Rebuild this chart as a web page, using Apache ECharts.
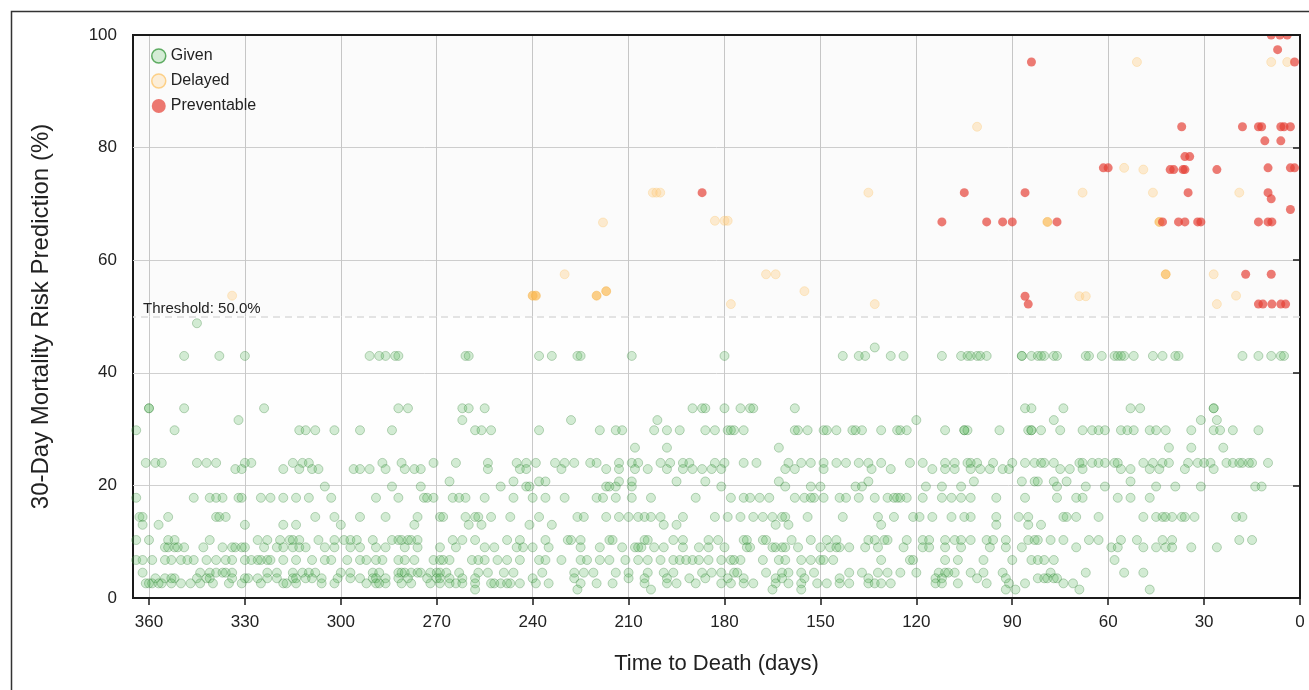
<!DOCTYPE html>
<html>
<head>
<meta charset="utf-8">
<script src="https://cdn.jsdelivr.net/npm/echarts@6/dist/echarts.min.js"></script>
<style>
html,body{margin:0;padding:0;background:#fff;}
#chart{width:1309px;height:690px;}
</style>
</head>
<body>
<div id="chart"></div>
<script>
// ---------------- DATA ----------------
const xTickValues = [0, 30, 60, 90, 120, 150, 180, 210, 240, 270, 300, 330, 360];
const thresholdValue = 50;

// Given: risk levels and the days (time to death) observed at each level
const givenLevels = [48.8, 44.5, 43, 33.7, 31.6, 29.8, 26.7, 24.0, 22.9, 20.7, 19.8, 17.8, 14.4, 13.0, 10.3, 9.0, 6.75, 4.5, 3.5, 2.6, 1.5];
const givenDays = [
  [345],
  [133],
  [349,338,330,291,288,286,283,282,261,260,238,234,226,225,209,180,143,138,136,128,124,112,106,104,103,101,100,98,87,87,84,82,81,80,77,76,67,66,62,58,57,56,55,52,46,43,39,38,18,13,9,6,5],
  [360,360,349,324,282,279,262,260,255,190,187,186,180,175,172,171,158,86,84,74,53,50,27,27],
  [332,262,228,201,120,77,31,26],
  [364,352,313,311,308,302,294,284,258,256,253,238,219,214,212,202,198,194,186,183,179,178,177,174,158,157,154,149,148,145,140,139,137,131,126,125,123,111,105,105,104,94,85,84,84,81,75,68,65,63,61,56,54,52,47,45,42,34,27,25,21,13],
  [208,198,163,41,34,24],
  [361,358,356,345,342,339,330,328,315,312,310,287,281,271,264,254,245,242,239,233,230,227,222,220,213,209,207,200,197,193,191,183,180,174,170,160,156,153,149,145,142,138,135,131,122,118,111,108,104,103,101,96,90,86,83,81,80,77,69,68,65,63,61,58,57,49,46,43,41,35,32,30,28,23,21,19,18,16,15,10],
  [333,331,318,313,309,307,296,294,291,286,280,277,275,254,244,242,231,217,213,208,204,198,193,190,187,184,181,161,158,149,134,128,115,111,108,103,100,97,93,91,75,72,68,56,53,47,44,36,27],
  [266,246,238,236,213,209,195,186,163,135,102,87,83,82,77,73,53],
  [305,284,275,250,242,241,217,216,214,209,181,161,153,150,139,137,117,112,106,76,67,61,45,39,31,14,12],
  [364,346,341,339,337,332,331,325,322,318,314,310,303,289,282,274,273,271,265,263,261,255,246,240,236,230,220,218,214,209,203,189,178,174,172,169,166,158,155,153,152,149,144,142,138,133,129,127,126,125,123,118,112,109,106,103,95,86,76,70,68,57,53,47],
  [363,362,354,339,338,336,308,302,294,286,276,269,268,261,258,257,253,247,238,226,224,217,213,210,207,205,203,200,193,183,179,175,171,168,165,162,161,154,143,132,127,121,119,115,109,105,103,95,88,85,74,73,70,63,49,45,43,42,40,37,36,33,20,18],
  [362,357,330,318,314,300,277,260,256,241,234,199,195,164,160,131,95,85,81],
  [364,360,354,352,341,326,323,319,316,315,313,307,302,299,297,295,290,284,282,281,279,278,276,265,262,258,248,244,236,229,228,225,216,215,205,204,196,193,185,182,174,173,168,167,159,153,148,145,135,133,130,129,123,118,116,111,108,106,103,98,96,92,85,83,82,78,74,66,63,56,51,43,40,19,15],
  [355,354,352,351,349,343,337,334,333,331,330,324,320,318,315,313,311,305,302,297,294,289,286,280,276,269,264,255,252,245,243,240,235,225,219,212,208,207,206,202,199,193,188,185,180,173,172,165,164,162,161,157,150,147,145,144,141,136,132,124,118,116,111,106,97,92,87,70,59,57,49,45,42,40,34,26],
  [364,362,359,355,353,350,348,346,342,339,336,334,330,328,326,325,323,322,318,314,309,305,303,298,294,292,289,287,282,280,277,271,269,268,266,259,257,255,251,248,244,238,236,231,225,223,219,216,211,207,204,200,196,194,192,190,188,185,181,178,177,175,168,163,161,156,153,150,149,146,131,122,121,111,107,99,90,84,82,80,77,58],
  [362,344,341,339,337,336,334,323,320,315,312,310,308,300,297,290,288,282,281,280,278,276,275,272,270,269,267,263,257,254,249,246,237,227,224,221,214,210,204,199,196,187,184,181,177,176,167,162,160,156,152,141,137,132,129,125,120,113,111,110,108,103,99,93,78,67,55,49],
  [358,355,353,352,345,342,341,334,330,329,326,323,320,315,314,311,309,306,301,297,294,290,289,286,282,279,273,270,269,266,262,258,240,227,210,205,198,191,186,179,174,164,162,155,144,135,114,112,101,92,82,80,79,77,76],
  [361,360,359,357,356,353,350,347,344,340,335,331,325,318,317,314,306,302,292,289,288,286,281,278,272,269,266,264,262,258,253,252,250,248,247,244,239,235,225,220,215,205,198,195,189,181,178,174,171,164,160,156,151,148,144,141,135,133,131,128,114,112,107,98,91,86,74,71],
  [258,226,203,165,156,92,89,69,47]
];

// Delayed (pale group)
const delayedPaleDays = [334,218,202.4,201.3,200.1,183,180,179,135,230,178,167,164,155,133,101,51,9,4,55,49,68,46,19,69,67,27,20,26];
const delayedPaleRisk = [53.7,66.7,72,72,72,67,67,67,72,57.5,52.2,57.5,57.5,54.5,52.2,83.7,95.2,95.2,95.2,76.4,76.1,72,72,72,53.6,53.6,57.5,53.7,52.2];
// Delayed (deep group)
const delayedDeepDays = [240,239,220,217,42,44,79];
const delayedDeepRisk = [53.7,53.7,53.7,54.5,57.5,66.8,66.8];

// Preventable
const prevDays = [187,84,105,86,112,98,93,90,76,61.5,60,37,18,13,12,6,5,3,11,6,36,34.5,40.6,39.5,36.6,36,26,10,3,1.7,35,10,9,3,43,38,36,32,31,13,10,8.8,9,6.3,4,7,1.7,86,85,17,9,13,11.6,8.8,6,4.5];
const prevRisk = [72,95.2,72,72,66.8,66.8,66.8,66.8,66.8,76.4,76.4,83.7,83.7,83.7,83.7,83.7,83.7,83.7,81.2,81.2,78.4,78.4,76.1,76.1,76.1,76.1,76.1,76.4,76.4,76.4,72,72,70.9,69,66.8,66.8,66.8,66.8,66.8,66.8,66.8,66.8,100,100,100,97.4,95.2,53.6,52.2,57.5,57.5,52.2,52.2,52.2,52.2,52.2];

// ---------------- BUILD ----------------
const givenData = [];
givenLevels.forEach((lvl, i) => givenDays[i].forEach(d => givenData.push([d, lvl])));
const zip = (a, b) => a.map((v, i) => [v, b[i]]);

const FONT = "'Liberation Sans', Arial, sans-serif";
const chart = echarts.init(document.getElementById('chart'), null, {renderer: 'canvas'});

chart.setOption({
  animation: false,
  backgroundColor: '#ffffff',
  textStyle: {fontFamily: FONT},
  graphic: [
    { // mask so marks at the top edge are cut by the plot frame
      type: 'rect', left: 134, top: 12, z: 100, silent: true,
      shape: {width: 1180, height: 22},
      style: {fill: '#ffffff'}
    },
    {
      type: 'line', z: 101, silent: true,
      shape: {x1: 132, y1: 35, x2: 1301, y2: 35},
      style: {stroke: '#1a1a1a', lineWidth: 2}
    },
    {
      type: 'rect', left: 9, top: 9, z: 102, silent: true,
      shape: {width: 1400, height: 700},
      style: {fill: 'none', stroke: '#333', lineWidth: 1.5}
    }
  ],
  grid: {
    left: 133, right: 9, top: 35, bottom: 92,
    show: true, backgroundColor: '#fefefe', borderColor: '#1a1a1a', borderWidth: 2
  },
  legend: {
    orient: 'vertical', left: 146, top: 43,
    itemWidth: 14, itemHeight: 14, itemGap: 9,
    icon: 'circle',
    textStyle: {fontSize: 16, color: '#222', fontFamily: FONT},
    data: [
      {name: 'Given', itemStyle: {color: '#cbe8cc', borderColor: '#3c9a41', borderWidth: 1.5}},
      {name: 'Delayed', itemStyle: {color: '#fdebcf', borderColor: '#fcc76f', borderWidth: 1.5}},
      {name: 'Preventable', itemStyle: {color: '#e8564c', borderWidth: 0}}
    ]
  },
  xAxis: {
    type: 'value', min: 0, max: 365, interval: 30, inverse: true,
    name: 'Time to Death (days)', nameLocation: 'middle', nameGap: 55,
    nameTextStyle: {fontSize: 22, color: '#222', fontFamily: FONT},
    axisLine: {show: true, onZero: false, lineStyle: {color: '#1a1a1a', width: 2}},
    axisTick: {show: true, length: 7, lineStyle: {color: '#1a1a1a', width: 1.5}, customValues: xTickValues},
    axisLabel: {fontSize: 17, color: '#222', margin: 16, fontFamily: FONT, customValues: xTickValues,
      formatter: v => (v > 360 ? '' : String(v))},
    splitLine: {show: true, lineStyle: {color: '#c9c9c9', width: 1}}
  },
  yAxis: {
    type: 'value', min: 0, max: 100, interval: 20,
    name: '30-Day Mortality Risk Prediction (%)', nameLocation: 'middle', nameGap: 80,
    nameTextStyle: {fontSize: 24, color: '#222', fontFamily: FONT},
    axisLine: {show: true, lineStyle: {color: '#1a1a1a', width: 2}},
    axisTick: {show: true, length: 7, lineStyle: {color: '#1a1a1a', width: 1.5}},
    axisLabel: {fontSize: 17, color: '#222', margin: 16, fontFamily: FONT},
    splitLine: {show: true, lineStyle: {color: '#d0d0d0', width: 1}}
  },
  series: [
    {
      name: 'Given', type: 'scatter', symbolSize: 9, clip: true, data: givenData,
      itemStyle: {color: 'rgba(76,175,80,0.3)', borderColor: 'rgba(46,125,50,0.38)', borderWidth: 1},
      emphasis: {disabled: true},
      markLine: {
        silent: true, symbol: 'none',
        lineStyle: {type: [7, 5], color: '#dadada', width: 1.5},
        label: {show: true, position: 'insideEndTop', formatter: 'Threshold: 50.0%',
          color: '#222', fontSize: 15, fontFamily: FONT, distance: [10, 0]},
        data: [{yAxis: thresholdValue}]
      },
      markArea: {
        silent: true,
        itemStyle: {color: 'rgba(0,0,0,0.01)'},
        data: [[{yAxis: thresholdValue}, {yAxis: 100}]]
      }
    },
    {
      name: 'Delayed', type: 'scatter', symbolSize: 9, clip: true, data: zip(delayedPaleDays, delayedPaleRisk),
      itemStyle: {color: 'rgba(255,205,130,0.45)', borderColor: 'rgba(252,190,90,0.35)', borderWidth: 1},
      emphasis: {disabled: true}
    },
    {
      name: 'Delayed', type: 'scatter', symbolSize: 9, clip: true, data: zip(delayedDeepDays, delayedDeepRisk),
      itemStyle: {color: 'rgba(250,185,80,0.85)', borderColor: 'rgba(245,175,70,0.6)', borderWidth: 1},
      emphasis: {disabled: true}
    },
    {
      name: 'Preventable', type: 'scatter', symbolSize: 9, clip: true, data: zip(prevDays, prevRisk),
      itemStyle: {color: 'rgba(229,62,52,0.85)'},
      emphasis: {disabled: true}
    }
  ]
});
</script>
</body>
</html>
